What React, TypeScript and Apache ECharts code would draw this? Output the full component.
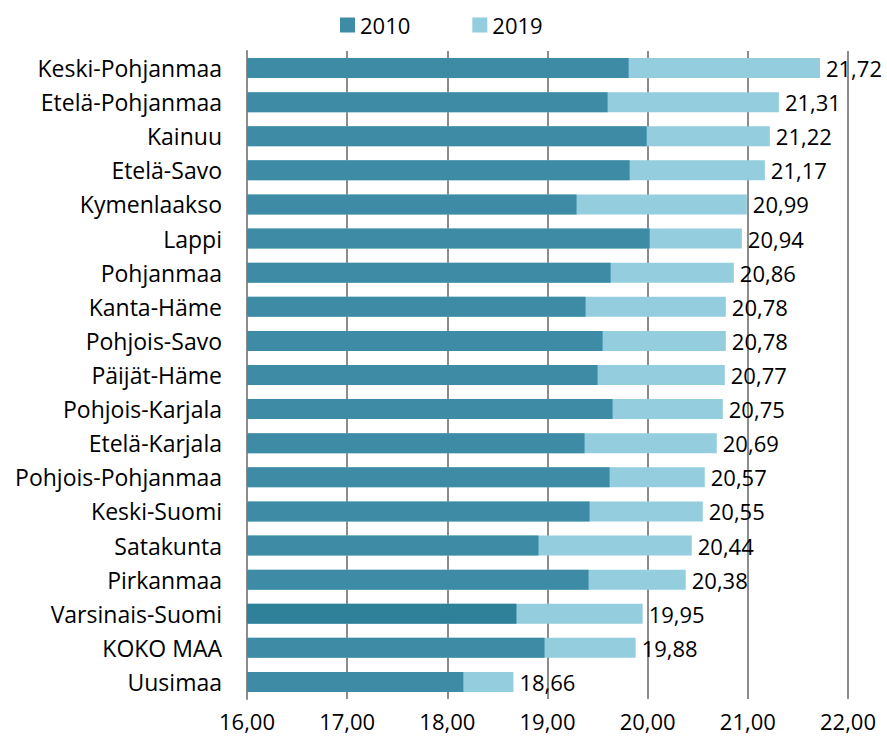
import React, { useEffect, useRef } from "react";
import * as echarts from "echarts";

const categories = [
  "Keski-Pohjanmaa", "Etelä-Pohjanmaa", "Kainuu", "Etelä-Savo", "Kymenlaakso", "Lappi",
  "Pohjanmaa", "Kanta-Häme", "Pohjois-Savo", "Päijät-Häme", "Pohjois-Karjala", "Etelä-Karjala",
  "Pohjois-Pohjanmaa", "Keski-Suomi", "Satakunta", "Pirkanmaa", "Varsinais-Suomi", "KOKO MAA", "Uusimaa",
];
const values2010 = [
  19.81, 19.6, 19.99, 19.82, 19.29, 20.02, 19.63, 19.38, 19.55, 19.5,
  19.65, 19.37, 19.62, 19.42, 18.91, 19.41, 18.69, 18.97, 18.16,
];
const values2019 = [
  21.72, 21.31, 21.22, 21.17, 20.99, 20.94, 20.86, 20.78, 20.78, 20.77,
  20.75, 20.69, 20.57, 20.55, 20.44, 20.38, 19.95, 19.88, 18.66,
];
const seriesNames = ["2010", "2019"];
const axisMin = 16;
const axisMax = 22;
const axisInterval = 1;

const FONT = "Open Sans";

export default function App() {
  const ref = useRef<HTMLDivElement>(null);
  useEffect(() => {
    if (!ref.current) return;
    const chart = echarts.init(ref.current, undefined, { renderer: "svg" });
    const fmt = (v: number) => v.toFixed(2).replace(".", ",");
    chart.setOption({
      animation: false,
      textStyle: { fontFamily: FONT },
      legend: {
        data: seriesNames,
        top: 9,
        left: 335,
        itemWidth: 15,
        itemHeight: 15,
        itemGap: 62,
        icon: "rect",
        textStyle: { fontSize: 22, color: "#000", fontFamily: FONT },
      },
      grid: { left: 247, right: 39, top: 51, bottom: 43, containLabel: false },
      xAxis: {
        type: "value",
        min: axisMin,
        max: axisMax,
        interval: axisInterval,
        axisLine: { show: false },
        axisTick: { show: false },
        splitLine: { show: true, lineStyle: { color: "#8c8c8c", width: 2 } },
        axisLabel: {
          formatter: (v: number) => fmt(v),
          fontSize: 22,
          color: "#000",
          margin: 11,
          fontFamily: FONT,
        },
      },
      yAxis: {
        type: "category",
        data: categories,
        inverse: true,
        axisLine: { show: true, lineStyle: { color: "#8c8c8c", width: 2 } },
        axisTick: { show: false },
        axisLabel: { fontSize: 23, color: "#000", margin: 25, fontFamily: FONT },
      },
      series: [
        {
          name: "2019",
          type: "bar",
          data: values2019,
          barWidth: 20,
          barGap: "-100%",
          itemStyle: { color: "#93cdde" },
          label: {
            show: true,
            position: "right",
            distance: 6,
            formatter: (p: any) => fmt(p.value),
            fontSize: 22,
            color: "#000",
            fontFamily: FONT,
          },
        },
        {
          name: "2010",
          type: "bar",
          data: values2010.map((v, i) =>
            categories[i] === "Varsinais-Suomi" ? { value: v, itemStyle: { color: "#2f8099" } } : v
          ),
          barWidth: 20,
          barGap: "-100%",
          itemStyle: { color: "#3d8ba4" },
        },
      ],
    });
    return () => chart.dispose();
  }, []);
  return (
    <div
      ref={ref}
      style={{ position: "absolute", left: 0, top: 0, width: 887, height: 742 }}
    />
  );
}
